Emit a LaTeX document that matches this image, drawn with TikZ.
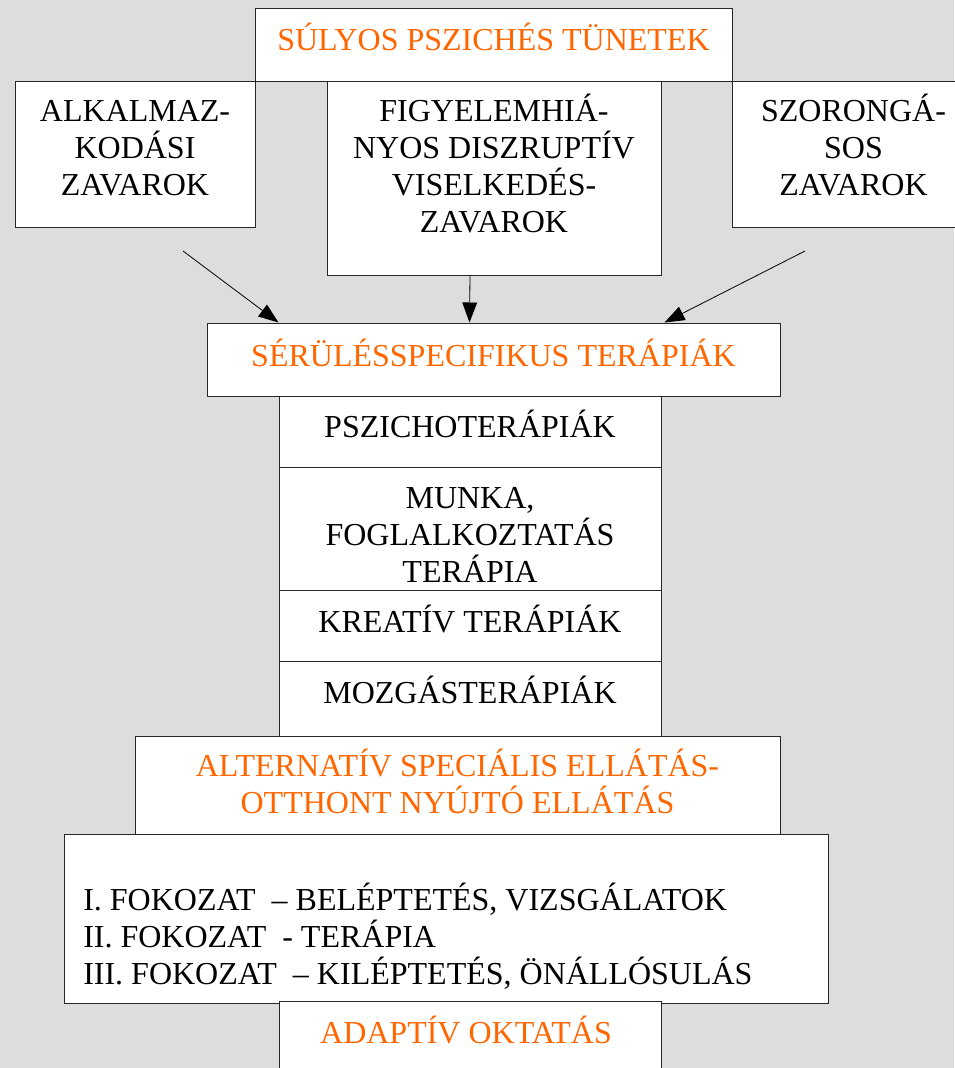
\documentclass[tikz,border=0pt]{standalone}
\usepackage{fontspec}
\setmainfont{Liberation Serif}
\usetikzlibrary{arrows.meta,positioning,fit}
\definecolor{bgGrey}{HTML}{DDDDDD}
\definecolor{headOrange}{HTML}{FF6600}

\begin{document}
\begin{tikzpicture}[x=0.75pt,y=-0.75pt,
    box/.style={draw=black!85,line width=0.75pt,fill=white,inner sep=0pt},
    txt/.style={font=\fontsize{24}{27.75}\selectfont,align=center,inner sep=0pt,anchor=base},
    head/.style={txt,text=headOrange},
    >={Triangle[length=15pt,width=11pt]}]
    % background
    \fill[bgGrey] (0,0) rectangle (954,1068);
    \useasboundingbox (0,0) rectangle (954,1068);

    % top row
    \node[box,fit={(255,8) (732,81)}] (sulyos) {};
    \node[box,fit={(15,81) (255,227)}] (alkalm) {};
    \node[box,fit={(327,81) (661,275)}] (figyel) {};
    \node[box,fit={(732,81) (975,227)}] (szoron) {};
    % multi-line texts sit on the baseline of their last line
    \node[head] (sulyosT) at (493.5,50) {SÚLYOS PSZICHÉS TÜNETEK};
    \node[txt] (alkalmT) at (135,195) {ALKALMAZ-\\KODÁSI\\ZAVAROK};
    \node[txt] (figyelT) at (494,232) {FIGYELEMHIÁ-\\NYOS DISZRUPTÍV\\VISELKEDÉS-\\ZAVAROK};
    \node[txt] (szoronT) at (853.5,195) {SZORONGÁ-\\SOS\\ZAVAROK};

    % therapies
    \node[box,fit={(207,323) (780,396)}] (serules) {};
    \node[box,fit={(279,396) (661,467)}] (pszich) {};
    \node[box,fit={(279,467) (661,590)}] (munka) {};
    \node[box,fit={(279,590) (661,661)}] (kreativ) {};
    \node[box,fit={(279,661) (661,736)}] (mozgas) {};
    \node[head] (serulesT) at (493.5,366) {SÉRÜLÉSSPECIFIKUS TERÁPIÁK};
    \node[txt] (pszichT) at (470,437) {PSZICHOTERÁPIÁK};
    \node[txt] (munkaT) at (470,582) {MUNKA,\\FOGLALKOZTATÁS\\TERÁPIA};
    \node[txt] (kreativT) at (470,632) {KREATÍV TERÁPIÁK};
    \node[txt] (mozgasT) at (470,703) {MOZGÁSTERÁPIÁK};

    % arrows
    \coordinate (alkFrom) at (183,251);
    \coordinate (szoFrom) at (805,251);
    \draw[->,line width=0.6pt] (alkFrom) -- ([xshift=54pt]serules.north west);
    \draw[->,line width=0.6pt] ([xshift=-18pt]figyel.south) -- ([xshift=-18pt]serules.north);
    \draw[->,line width=0.6pt] (szoFrom) -- ([xshift=-87pt]serules.north east);

    % care levels
    \node[box,fit={(135,736) (780,834)}] (altern) {};
    \node[box,fit={(64,834) (828,1003)}] (fokozat) {};
    \node[box,fit={(279,1001) (661,1080)}] (adaptiv) {};
    \node[head] (alternT) at (457.5,813) {ALTERNATÍV SPECIÁLIS ELLÁTÁS-\\OTTHONT NYÚJTÓ ELLÁTÁS};
    \node[txt,align=left,anchor=base west] (fokozatT) at (83,984) {I. FOKOZAT \ -- BELÉPTETÉS, VIZSGÁLATOK\\II. FOKOZAT \ - TERÁPIA\\III. FOKOZAT \ -- KILÉPTETÉS, ÖNÁLLÓSULÁS};
    \node[head] (adaptivT) at (466,1043) {ADAPTÍV OKTATÁS};
\end{tikzpicture}
\end{document}
